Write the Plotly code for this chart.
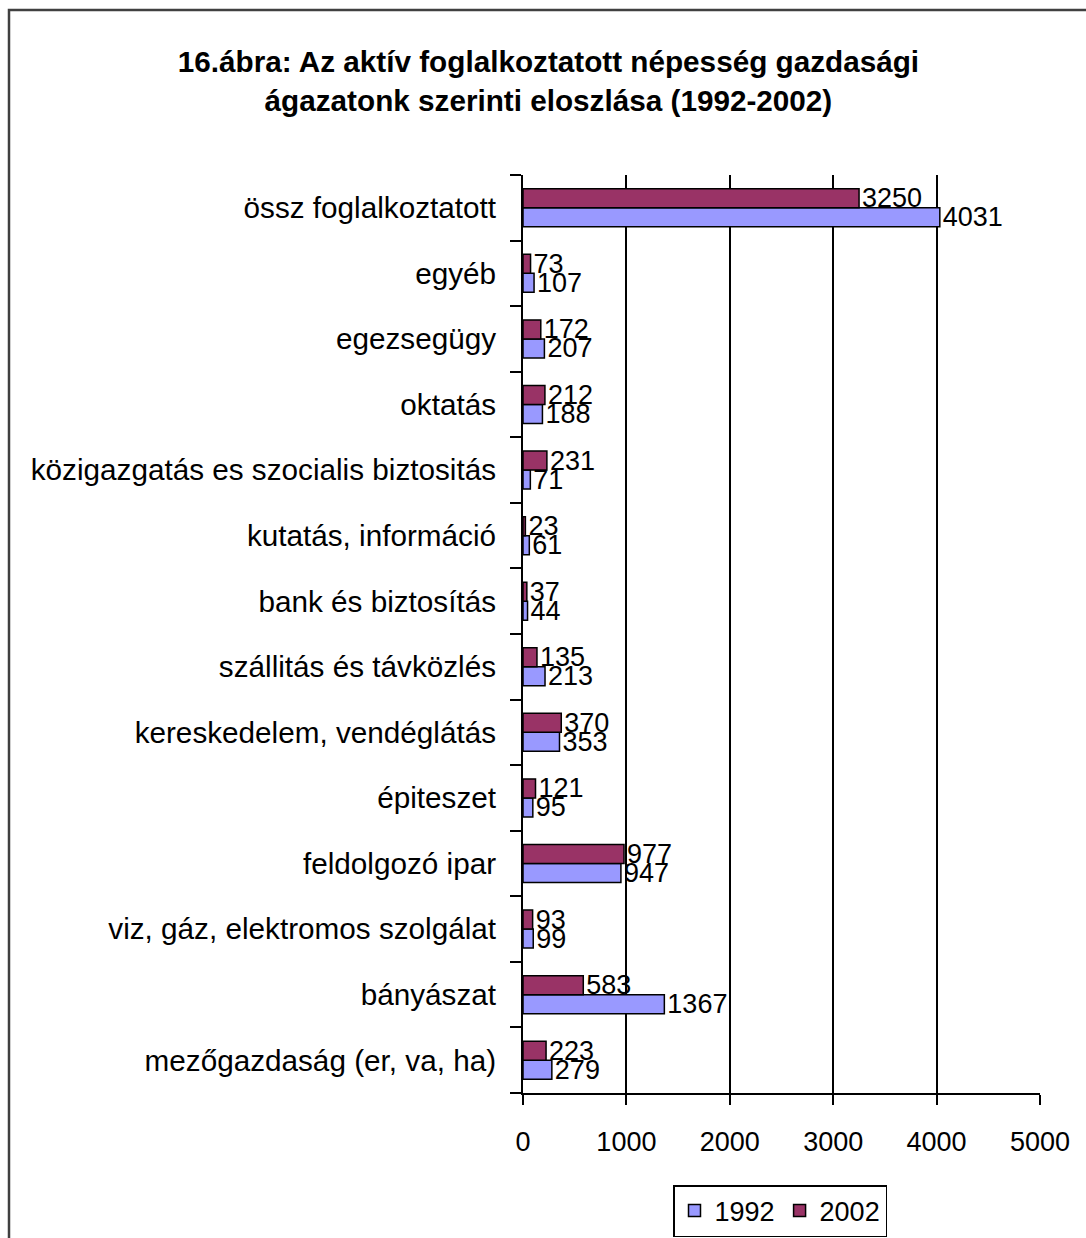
import plotly.graph_objects as go

# Categories listed bottom-to-top (as plotted)
categories = [
    "mezőgazdaság (er, va, ha)",
    "bányászat",
    "viz, gáz, elektromos szolgálat",
    "feldolgozó ipar",
    "épiteszet",
    "kereskedelem, vendéglátás",
    "szállitás és távközlés",
    "bank és biztosítás",
    "kutatás, információ",
    "közigazgatás es szocialis biztositás",
    "oktatás",
    "egezsegügy",
    "egyéb",
    "össz foglalkoztatott",
]
values_1992 = [279, 1367, 99, 947, 95, 353, 213, 44, 61, 71, 188, 207, 107, 4031]
values_2002 = [223, 583, 93, 977, 121, 370, 135, 37, 23, 231, 212, 172, 73, 3250]
x_ticks = [0, 1000, 2000, 3000, 4000, 5000]

FONT = "Liberation Sans, Arial, sans-serif"
W, H = 1086, 1238
L, R, T, B = 523, 46, 175, 145
pw, ph = W - L - R, H - T - B

def px_x(p):
    return (p - L) / pw

def px_y(p):
    return (H - B - p) / ph

fig = go.Figure()
fig.add_trace(go.Bar(
    name="1992", y=categories, x=values_1992, orientation="h",
    marker=dict(color="#9999FF", line=dict(color="black", width=1.5)),
    text=[str(v) for v in values_1992], textposition="outside",
    textfont=dict(family=FONT, size=27, color="black"),
    constraintext="none", cliponaxis=False,
))
fig.add_trace(go.Bar(
    name="2002", y=categories, x=values_2002, orientation="h",
    marker=dict(color="#993366", line=dict(color="black", width=1.5)),
    text=[str(v) for v in values_2002], textposition="outside",
    textfont=dict(family=FONT, size=27, color="black"),
    constraintext="none", cliponaxis=False,
))

fig.update_layout(
    width=W, height=H,
    margin=dict(l=L, r=R, t=T, b=B, pad=0, autoexpand=False),
    paper_bgcolor="white", plot_bgcolor="white",
    barmode="group", bargap=0.42, bargroupgap=0,
    font=dict(family=FONT, size=27, color="black"),
    title=dict(
        text="<b>16.ábra: Az aktív foglalkoztatott népesség gazdasági<br>ágazatonk szerinti eloszlása (1992-2002)</b>",
        x=0.505, xanchor="center", xref="container",
        y=1 - 72 / H, yanchor="top", yref="container",
        font=dict(family=FONT, size=29.7, color="black"),
    ),
    xaxis=dict(
        range=[0, 5000], tickvals=x_ticks, ticktext=[str(t) for t in x_ticks],
        showgrid=True, gridcolor="black", gridwidth=1.5,
        showline=True, linecolor="black", linewidth=2,
        ticks="outside", ticklen=10, tickcolor="black", tickwidth=2,
        tickfont=dict(family=FONT, size=27, color="black"),
        zeroline=False, ticklabelstandoff=14, automargin=False,
    ),
    yaxis=dict(
        type="category", categoryorder="array", categoryarray=categories,
        showline=True, linecolor="black", linewidth=2,
        ticks="outside", tickson="boundaries", ticklen=11, tickcolor="black", tickwidth=2,
        tickfont=dict(family=FONT, size=29.7, color="black"),
        showgrid=False, ticklabelstandoff=19, automargin=False,
    ),
    legend=dict(
        orientation="h", xref="container", x=780 / W, xanchor="center",
        yref="container", y=1 - 1185 / H, yanchor="top",
        bordercolor="black", borderwidth=1.5, bgcolor="white",
        font=dict(family=FONT, size=27, color="black"),
        itemwidth=30, traceorder="normal",
    ),
    shapes=[
        dict(type="rect", xref="paper", yref="paper",
             x0=px_x(9), x1=px_x(1200), y0=px_y(1300), y1=px_y(10),
             line=dict(color="#404040", width=2.5), fillcolor="rgba(0,0,0,0)",
             layer="below"),
    ],
)

fig.write_html("out.html", post_script="document.body.style.margin='0';",
               config={"displayModeBar": False})
